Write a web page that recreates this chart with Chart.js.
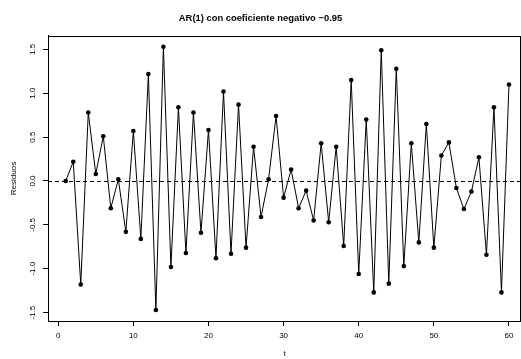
<!DOCTYPE html>
<html>
<head>
<meta charset="utf-8">
<script src="https://cdn.jsdelivr.net/npm/chart.js@4"></script>
<style>
  body { margin: 0; background: #fff; }
  #wrap { width: 521px; height: 359px; }
</style>
</head>
<body>
<div id="wrap"><canvas id="chart" width="521" height="359"></canvas></div>
<script>
const tValues = [1,2,3,4,5,6,7,8,9,10,11,12,13,14,15,16,17,18,19,20,
  21,22,23,24,25,26,27,28,29,30,31,32,33,34,35,36,37,38,39,40,
  41,42,43,44,45,46,47,48,49,50,51,52,53,54,55,56,57,58,59,60];
const residuos = [0.00,0.22,-1.18,0.78,0.08,0.51,-0.31,0.02,-0.58,0.57,
  -0.66,1.22,-1.47,1.53,-0.98,0.84,-0.82,0.78,-0.59,0.58,
  -0.88,1.02,-0.83,0.87,-0.76,0.39,-0.41,0.02,0.74,-0.19,
  0.13,-0.31,-0.11,-0.45,0.43,-0.47,0.39,-0.74,1.15,-1.06,
  0.70,-1.27,1.49,-1.17,1.28,-0.97,0.43,-0.70,0.65,-0.76,
  0.29,0.44,-0.08,-0.32,-0.12,0.27,-0.84,0.84,-1.27,1.10];
const xTicks = [0,10,20,30,40,50,60];
const yTicks = [-1.5,-1.0,-0.5,0.0,0.5,1.0,1.5];

const FONT = "'Liberation Sans', Arial, Helvetica, sans-serif";

// caja del grafico y linea horizontal en 0 (abline h=0, lty=2)
const rPlotStyle = {
  id: "rPlotStyle",
  beforeDatasetsDraw(chart) {
    const { ctx, chartArea, scales } = chart;
    const y0 = scales.y.getPixelForValue(0);
    ctx.save();
    ctx.strokeStyle = "#000";
    ctx.lineWidth = 1;
    ctx.setLineDash([4, 3]);
    ctx.beginPath();
    ctx.moveTo(chartArea.left, Math.round(y0) + 0.5);
    ctx.lineTo(chartArea.right, Math.round(y0) + 0.5);
    ctx.stroke();
    ctx.restore();
  },
  afterDraw(chart) {
    const { ctx, chartArea } = chart;
    ctx.save();
    ctx.strokeStyle = "#000";
    ctx.lineWidth = 1;
    ctx.strokeRect(
      Math.round(chartArea.left) + 0.5,
      Math.round(chartArea.top) + 0.5,
      Math.round(chartArea.right - chartArea.left) - 1,
      Math.round(chartArea.bottom - chartArea.top)
    );
    ctx.restore();
  },
};

new Chart(document.getElementById("chart"), {
  type: "line",
  data: {
    datasets: [
      {
        data: tValues.map((t, i) => ({ x: t, y: residuos[i] })),
        borderColor: "#000",
        backgroundColor: "#000",
        borderWidth: 1,
        pointRadius: 2.3,
        pointBorderWidth: 0,
        tension: 0,
        fill: false,
      },
    ],
  },
  options: {
    responsive: false,
    animation: false,
    devicePixelRatio: 1,
    layout: { autoPadding: false, padding: { top: 0, right: 0, bottom: 0, left: 0 } },
    plugins: {
      legend: { display: false },
      tooltip: { enabled: false },
      title: {
        display: true,
        text: "AR(1) con coeficiente negativo \u22120.95",
        color: "#000",
        font: { family: FONT, size: 9.4, weight: "bold", lineHeight: 1.2 },
        padding: { top: 12.9, bottom: 11.8 },
      },
    },
    scales: {
      x: {
        type: "linear",
        min: -1.36,
        max: 61.6,
        afterBuildTicks: (scale) => {
          scale.ticks = xTicks.map((v) => ({ value: v }));
        },
        afterFit: (scale) => {
          scale.height = 38;
          scale.paddingLeft = 0;
          scale.paddingRight = 0;
        },
        grid: {
          drawOnChartArea: false,
          drawTicks: true,
          tickLength: 5,
          tickColor: "#000",
        },
        border: { display: true, color: "#000" },
        ticks: {
          color: "#000",
          font: { family: FONT, size: 8 },
          padding: 5,
          maxRotation: 0,
          autoSkip: false,
        },
        title: {
          display: true,
          text: "t",
          color: "#000",
          font: { family: FONT, size: 8 },
          padding: { top: 0, bottom: 0 },
        },
      },
      y: {
        type: "linear",
        min: -1.596,
        max: 1.653,
        afterBuildTicks: (scale) => {
          scale.ticks = yTicks.map((v) => ({ value: v }));
        },
        afterFit: (scale) => {
          scale.width = 48;
          scale.paddingTop = 0;
          scale.paddingBottom = 0;
        },
        grid: {
          drawOnChartArea: false,
          drawTicks: true,
          tickLength: 5,
          tickColor: "#000",
        },
        border: { display: true, color: "#000" },
        ticks: {
          color: "#000",
          font: { family: FONT, size: 8 },
          padding: 3,
          minRotation: 90,
          maxRotation: 90,
          crossAlign: "center",
          autoSkip: false,
          callback: (v) => v.toFixed(1),
        },
        title: {
          display: true,
          text: "Residuos",
          color: "#000",
          font: { family: FONT, size: 8 },
          padding: { top: 9, bottom: 0 },
        },
      },
    },
  },
  plugins: [rPlotStyle],
});
</script>
</body>
</html>
